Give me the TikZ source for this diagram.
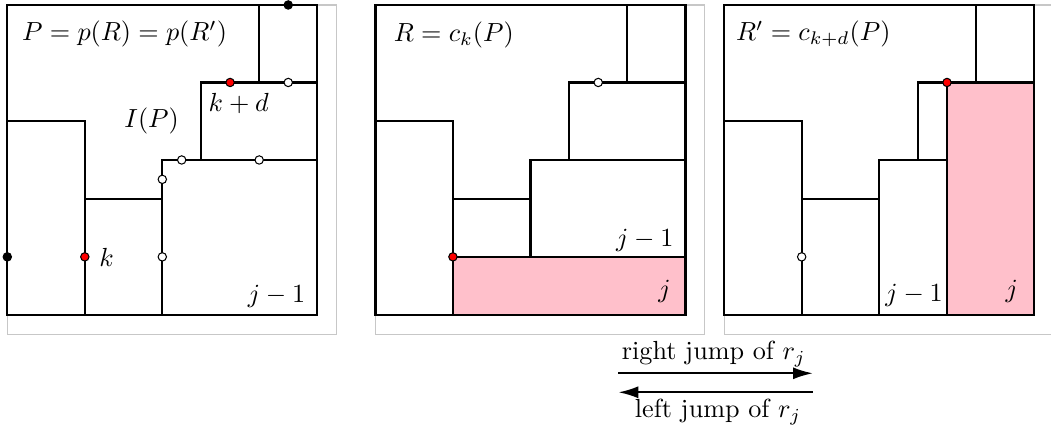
\documentclass[tikz,border=0pt]{standalone}
\usetikzlibrary{arrows.meta}
\definecolor{pinkfill}{RGB}{255,192,203}
\begin{document}
\begin{tikzpicture}[x=7.4pt,y=7.4pt,
  frame/.style={draw=black!22, line width=0.45pt},
  edge/.style={draw=black, line width=0.85pt},
  pt/.style={circle, draw=black, line width=0.4pt, inner sep=0pt, minimum size=3.2pt},
  bdot/.style={pt, fill=black},
  rdot/.style={pt, fill=red},
  wdot/.style={pt, fill=white},
  lbl/.style={inner sep=0pt},
  jump/.style={line width=0.8pt, -{Latex[length=7.6pt,width=4.6pt]}}]
\useasboundingbox (-0.377,-6.04) rectangle (53.868,16.257);

% ---------- panel 1 ----------
\begin{scope}
\draw[frame] (0,-1) rectangle (17,16);
\draw[edge] (0,0) rectangle (16,16);
\draw[edge] (0,10) -| (4,0);
\draw[edge] (4,6) -- (8,6);
\draw[edge] (8,0) |- (16,8);
\draw[edge] (10,8) |- (16,12);
\draw[edge] (13,12) -- (13,16);
\node[bdot] (a1) at (14.5,16) {};
\node[bdot] (a2) at (0,3) {};
\node[rdot] (a3) at (4,3) {};
\node[rdot] (a4) at (11.5,12) {};
\node[wdot] (a5) at (14.5,12) {};
\node[wdot] (a6) at (9,8) {};
\node[wdot] (a7) at (13,8) {};
\node[wdot] (a8) at (8,7) {};
\node[wdot] (a9) at (8,3) {};
\node[lbl, anchor=base west] (t1) at (0.74,14.16) {$P=p(R)=p(R')$};
\node[lbl] (t2) at (7.45,10) {$I(P)$};
\node[lbl, anchor=base west] (t3) at (10.37,10.49) {$k+d$};
\node[lbl, anchor=base west] (t4) at (4.73,2.49) {$k$};
\node[lbl, anchor=base east] (t5) at (15.4,0.66) {$j-1$};
\end{scope}

% ---------- panel 2 ----------
\begin{scope}[xshift=19*7.4pt]
\draw[frame] (0,-1) rectangle (17,16);
\fill[pinkfill] (4,0) rectangle (16,3);
\draw[edge] (0,0) rectangle (16,16);
\draw[edge] (0,10) -| (4,0);
\draw[edge] (4,3) -- (16,3);
\draw[edge] (4,6) -- (8,6);
\draw[edge] (8,3) |- (16,8);
\draw[edge] (10,8) |- (16,12);
\draw[edge] (13,12) -- (13,16);
\node[rdot] (b1) at (4,3) {};
\node[wdot] (b2) at (11.5,12) {};
\node[lbl, anchor=base west] (u1) at (0.92,14.11) {$R=c_k(P)$};
\node[lbl, anchor=base east] (u2) at (15.41,3.56) {$j-1$};
\node[lbl, anchor=base east] (u3) at (15.26,0.91) {$j$};
\end{scope}

% ---------- panel 3 ----------
\begin{scope}[xshift=37*7.4pt]
\draw[frame] (0,-1) rectangle (17,16);
\fill[pinkfill] (11.5,0) rectangle (16,12);
\draw[edge] (0,0) rectangle (16,16);
\draw[edge] (0,10) -| (4,0);
\draw[edge] (4,6) -- (8,6);
\draw[edge] (8,0) |- (11.5,8);
\draw[edge] (10,8) |- (16,12);
\draw[edge] (11.5,0) -- (11.5,12);
\draw[edge] (13,12) -- (13,16);
\node[rdot] (c1) at (11.5,12) {};
\node[wdot] (c2) at (4,3) {};
\node[lbl, anchor=base west] (v1) at (0.59,14.16) {$R'=c_{k+d}(P)$};
\node[lbl, anchor=base east] (v2) at (11.31,0.69) {$j-1$};
\node[lbl, anchor=base east] (v3) at (15.18,0.91) {$j$};
\end{scope}

% ---------- arrows ----------
\coordinate (r1) at (31.54,-3.01);
\coordinate (r2) at (41.58,-3.01);
\coordinate (l1) at (41.58,-3.99);
\coordinate (l2) at (31.54,-3.99);
\draw[jump] (r1) -- (r2);
\draw[jump] (l1) -- (l2);
\node[lbl, anchor=base] (w1) at (36.46,-2.32) {right jump of $r_j$};
\node[lbl, anchor=base] (w2) at (36.68,-5.28) {left jump of $r_j$};
\end{tikzpicture}
\end{document}
